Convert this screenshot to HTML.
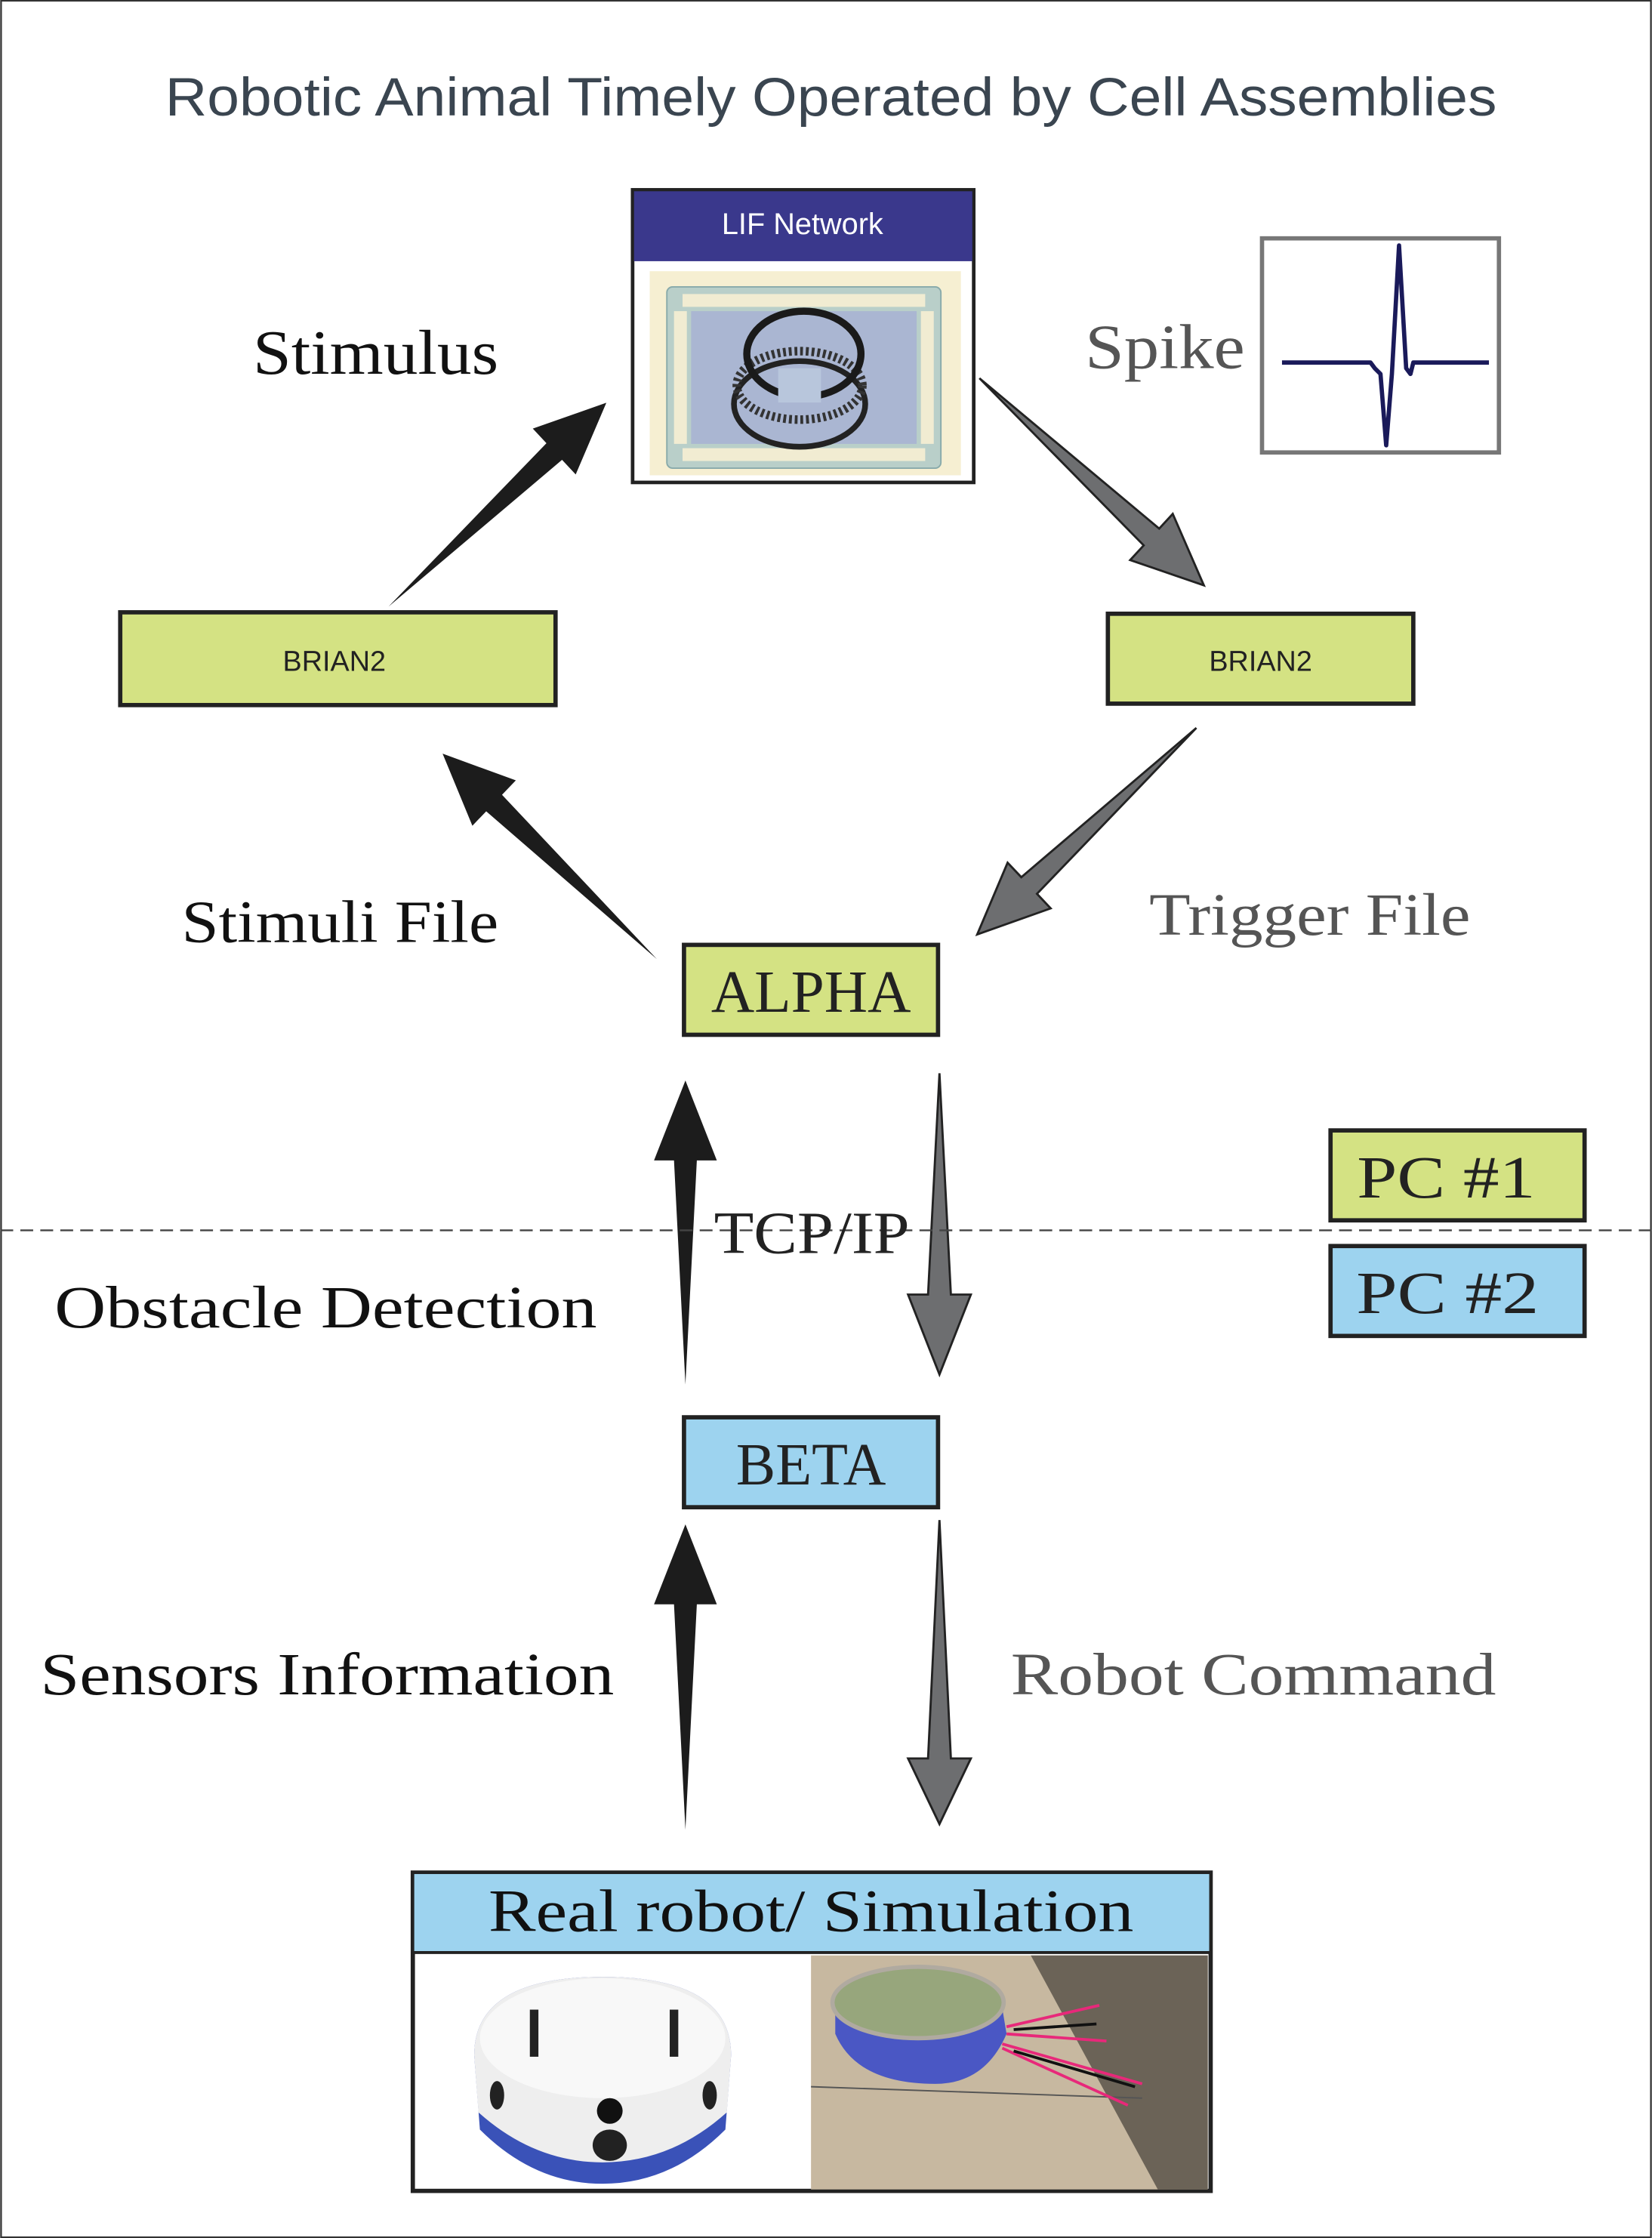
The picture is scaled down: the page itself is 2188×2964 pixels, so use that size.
<!DOCTYPE html>
<html><head><meta charset="utf-8"><style>
html,body{margin:0;padding:0;background:#fff;}
svg{display:block;}
.slab{font-family:"Liberation Serif","DejaVu Serif",serif;}
.sans{font-family:"Liberation Sans","DejaVu Sans",sans-serif;}
</style></head><body>
<svg width="2188" height="2964" viewBox="0 0 1157 1568" xmlns="http://www.w3.org/2000/svg">
<rect x="0.5" y="0.5" width="1156" height="1567" fill="#fff" stroke="#333" stroke-width="1.2"/>

<text x="582" y="81" text-anchor="middle" class="sans" font-size="38" fill="#3a4550" textLength="933" lengthAdjust="spacingAndGlyphs">Robotic Animal Timely Operated by Cell Assemblies</text>

<!-- LIF box -->
<rect x="443" y="133" width="239" height="205" fill="#fff" stroke="#222" stroke-width="2.5"/>
<rect x="444" y="134" width="237" height="49" fill="#3a388c"/>
<text x="562" y="164" text-anchor="middle" class="sans" font-size="21" fill="#fff">LIF Network</text>
<rect x="455" y="190" width="218" height="143" fill="#f6efd2"/>
<rect x="467" y="201" width="192" height="127" rx="4" fill="#b9cfc9" stroke="#8aa"/>
<g fill="#f1ecd2">
<rect x="478" y="206" width="170" height="9"/><rect x="478" y="314" width="170" height="9"/>
<rect x="472" y="218" width="9" height="93"/><rect x="645" y="218" width="9" height="93"/>
</g>
<rect x="484" y="218" width="158" height="93" fill="#aab6d2"/>
<ellipse cx="560" cy="283" rx="46" ry="30" fill="none" stroke="#222" stroke-width="4"/>
<ellipse cx="560" cy="270" rx="44" ry="24" fill="none" stroke="#333" stroke-width="6" stroke-dasharray="2 2"/>
<ellipse cx="563" cy="248" rx="40" ry="30" fill="none" stroke="#1a1a1a" stroke-width="5"/>
<rect x="545" y="258" width="30" height="24" fill="#b8c6dc"/>

<!-- Spike -->
<text x="760" y="258" class="slab" font-size="44" fill="#555" textLength="112" lengthAdjust="spacingAndGlyphs">Spike</text>
<rect x="884" y="167" width="166" height="150" fill="#fff" stroke="#777" stroke-width="3"/>
<polyline points="898,254 960,254 963,258 967,262 971,312 975,262 980,172 985,258 988,262 990,254 1043,254" fill="none" stroke="#1a1a5a" stroke-width="3" stroke-linejoin="round"/>

<text x="177" y="262" class="slab" font-size="44" fill="#111" textLength="172" lengthAdjust="spacingAndGlyphs">Stimulus</text>

<rect x="84" y="429" width="305" height="65" fill="#d4e283" stroke="#222" stroke-width="3"/>
<text x="234" y="470" text-anchor="middle" class="sans" font-size="20" fill="#222">BRIAN2</text>
<rect x="776" y="430" width="214" height="63" fill="#d4e283" stroke="#222" stroke-width="3"/>
<text x="883" y="470" text-anchor="middle" class="sans" font-size="20" fill="#222">BRIAN2</text>

<g transform="translate(272,425) rotate(-43.1)"><polygon points="0,0 159,-8 159,-22 209,0 159,22 159,8" fill="#1c1c1c"/></g>
<g transform="translate(686,265) rotate(42.7)"><polygon points="0,0 164,-8 164,-22 214,0 164,22 164,8" fill="#6d6e70" stroke="#222" stroke-width="1.5"/></g>
<g transform="translate(838,510) rotate(136.7)"><polygon points="0,0 161,-8 161,-22 211,0 161,22 161,8" fill="#6d6e70" stroke="#222" stroke-width="1.5"/></g>
<g transform="translate(460,672) rotate(-136.2)"><polygon points="0,0 158,-8 158,-22 208,0 158,22 158,8" fill="#1c1c1c"/></g>

<g transform="translate(480,970) rotate(-90)"><polygon points="0,0 157,-8 157,-22 213,0 157,22 157,8" fill="#1c1c1c"/></g>
<g transform="translate(658,752) rotate(90)"><polygon points="0,0 155,-8 155,-22 211,0 155,22 155,8" fill="#6d6e70" stroke="#222" stroke-width="1.5"/></g>
<g transform="translate(480,1282) rotate(-90)"><polygon points="0,0 158,-8 158,-22 214,0 158,22 158,8" fill="#1c1c1c"/></g>
<g transform="translate(658,1065) rotate(90)"><polygon points="0,0 167,-8 167,-22 213,0 167,22 167,8" fill="#6d6e70" stroke="#222" stroke-width="1.5"/></g>

<text x="127" y="660" class="slab" font-size="42" fill="#111" textLength="222" lengthAdjust="spacingAndGlyphs">Stimuli File</text>
<text x="805" y="655" class="slab" font-size="42" fill="#555" textLength="225" lengthAdjust="spacingAndGlyphs">Trigger File</text>

<rect x="479" y="662" width="178" height="63" fill="#d4e283" stroke="#222" stroke-width="3"/>
<text x="568" y="709" text-anchor="middle" class="slab" font-size="42" fill="#222" textLength="140" lengthAdjust="spacingAndGlyphs">ALPHA</text>

<line x1="0" y1="862" x2="1157" y2="862" stroke="#444" stroke-width="1.2" stroke-dasharray="9 5"/>
<text x="500" y="878" class="slab" font-size="42" fill="#222" textLength="137" lengthAdjust="spacingAndGlyphs">TCP/IP</text>

<rect x="932" y="792" width="178" height="63" fill="#d4e283" stroke="#222" stroke-width="3"/>
<text x="1013" y="839" text-anchor="middle" class="slab" font-size="42" fill="#222" textLength="125" lengthAdjust="spacingAndGlyphs">PC #1</text>
<rect x="932" y="873" width="178" height="63" fill="#9dd3ef" stroke="#222" stroke-width="3"/>
<text x="1014" y="920" text-anchor="middle" class="slab" font-size="42" fill="#222" textLength="128" lengthAdjust="spacingAndGlyphs">PC #2</text>

<text x="38" y="930" class="slab" font-size="42" fill="#111" textLength="380" lengthAdjust="spacingAndGlyphs">Obstacle Detection</text>

<rect x="479" y="993" width="178" height="63" fill="#9dd3ef" stroke="#222" stroke-width="3"/>
<text x="568" y="1040" text-anchor="middle" class="slab" font-size="42" fill="#222" textLength="105" lengthAdjust="spacingAndGlyphs">BETA</text>

<text x="28" y="1187" class="slab" font-size="42" fill="#111" textLength="402" lengthAdjust="spacingAndGlyphs">Sensors Information</text>
<text x="708" y="1187" class="slab" font-size="42" fill="#555" textLength="340" lengthAdjust="spacingAndGlyphs">Robot Command</text>

<rect x="289" y="1312" width="559" height="223" fill="#fff" stroke="#222" stroke-width="3"/>
<rect x="290" y="1313" width="557" height="55" fill="#9dd3ef"/>
<line x1="289" y1="1368" x2="848" y2="1368" stroke="#222" stroke-width="2"/>
<text x="568" y="1353" text-anchor="middle" class="slab" font-size="42" fill="#111" textLength="452" lengthAdjust="spacingAndGlyphs">Real robot/ Simulation</text>
<!-- left robot -->
<path d="M332,1440 Q332,1385 422,1385 Q512,1385 512,1440 L508,1492 Q470,1530 422,1530 Q374,1530 336,1492 Z" fill="#3a52b8"/>
<path d="M332,1440 Q332,1385 422,1385 Q512,1385 512,1440 L509,1480 Q470,1515 422,1515 Q374,1515 335,1480 Z" fill="#eeeeee"/>
<ellipse cx="422" cy="1428" rx="86" ry="42" fill="#f8f8f8"/>
<rect x="371" y="1408" width="6" height="33" fill="#222"/><rect x="469" y="1408" width="6" height="33" fill="#222"/>
<ellipse cx="427" cy="1479" rx="9" ry="9" fill="#111"/><ellipse cx="427" cy="1503" rx="12" ry="11" fill="#222"/>
<ellipse cx="348" cy="1468" rx="5" ry="10" fill="#222"/><ellipse cx="497" cy="1468" rx="5" ry="10" fill="#222"/>
<!-- right sim -->
<rect x="568" y="1370" width="278" height="164" fill="#c7b8a0"/>
<polygon points="722,1370 846,1370 846,1534 811,1534" fill="#6b6357"/>
<line x1="568" y1="1462" x2="800" y2="1470" stroke="#555" stroke-width="1"/>
<path d="M585,1395 Q620,1380 700,1395 L705,1425 Q690,1460 655,1460 Q600,1460 585,1425 Z" fill="#4a57c4"/>
<ellipse cx="643" cy="1403" rx="60" ry="25" fill="#97a67c" stroke="#b0aaa0" stroke-width="3"/>
<g stroke="#e8287a" stroke-width="2"><line x1="705" y1="1420" x2="770" y2="1405"/><line x1="705" y1="1425" x2="775" y2="1430"/><line x1="702" y1="1432" x2="800" y2="1460"/><line x1="702" y1="1435" x2="790" y2="1475"/></g>
<g stroke="#111" stroke-width="2"><line x1="710" y1="1422" x2="768" y2="1418"/><line x1="710" y1="1437" x2="795" y2="1462"/></g>
</svg>
</body></html>
